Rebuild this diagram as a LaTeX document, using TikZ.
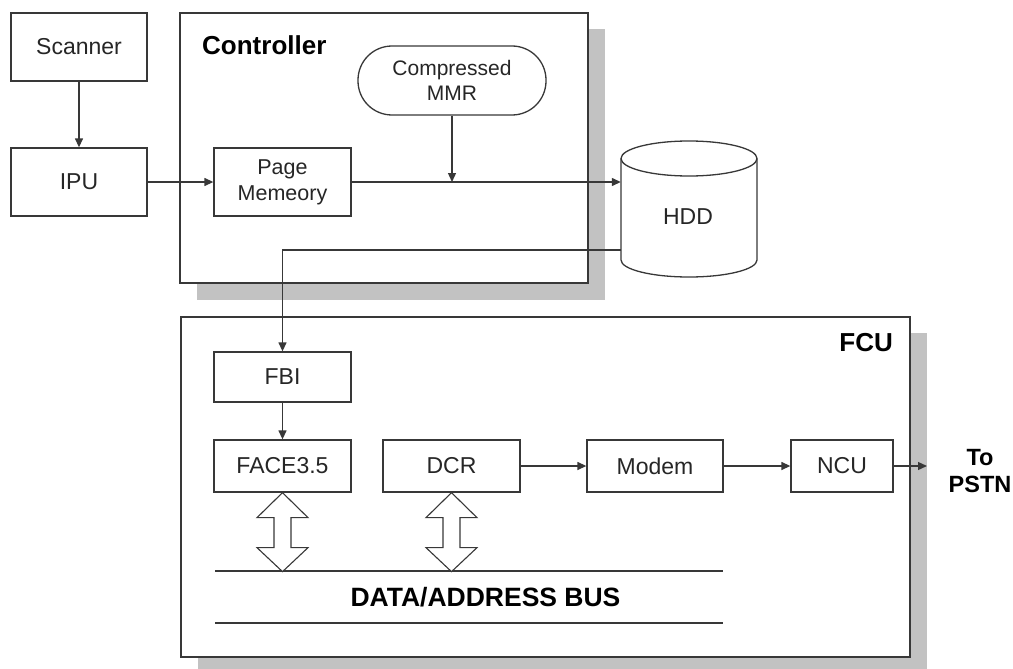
\documentclass[tikz,border=0pt]{standalone}
\usepackage{fontspec}
\setmainfont{Liberation Sans}
\usetikzlibrary{arrows.meta}
\definecolor{ln}{HTML}{383838}
\definecolor{tx}{HTML}{262626}
\definecolor{shd}{HTML}{C2C2C2}
\tikzset{
  blk/.style={draw=ln, line width=1.3pt, fill=white, inner sep=0pt, align=center, text=tx,
    font=\fontsize{23}{26}\selectfont},
  frame/.style={draw=ln, line width=1.5pt, fill=white},
  shadowbox/.style={fill=shd, draw=none},
  conn/.style={draw=ln, line width=1.3pt, -{Triangle[length=9pt,width=8pt]}},
  wire/.style={draw=ln, line width=1.3pt},
  title/.style={font=\bfseries\fontsize{26}{28}\selectfont, text=black, inner sep=0pt},
  busline/.style={draw=ln, line width=2.6pt},
  busarrow/.style={draw=ln, line width=1.1pt, fill=white},
}
\newcommand{\dblarrowpath}{(0,0) -- (25.5,25) -- (8.5,25) -- (8.5,55) -- (25.5,55) -- (0,79) -- (-25.5,55) -- (-8.5,55) -- (-8.5,25) -- (-25.5,25) -- cycle}
\begin{document}
\begin{tikzpicture}[x=1pt,y=-1pt]
\useasboundingbox (0,0) rectangle (1013,669);
% shadows and frames
\fill[shd] (197,29) rectangle (605,300);
\draw[frame] (180,13) rectangle (588,283);
\fill[shd] (198,333) rectangle (927,669);
\draw[frame] (181,317) rectangle (910,657);
\node[title, anchor=west] (ctl) at (202,45) {Controller};
\node[title, anchor=east] (fcu) at (893,343) {FCU};
% top nodes
\node[blk, minimum width=136pt, minimum height=68pt] (scanner) at (79,47) {Scanner};
\node[blk, minimum width=136pt, minimum height=68pt] (ipu) at (79,182) {IPU};
\node[blk, minimum width=137pt, minimum height=68pt, font=\fontsize{21.5}{26}\selectfont] (pagemem) at (282.5,182) {Page\\Memeory};
\node[blk, minimum width=188pt, minimum height=69pt, rounded corners=34pt, font=\fontsize{21}{25}\selectfont] (mmr) at (452,80.5) {Compressed\\MMR};
% HDD cylinder
\node[minimum width=136pt, minimum height=136pt, inner sep=0pt] (hdd) at (689,209) {};
\fill[white] (621,158.5) rectangle (757,260);
\fill[white] (689,260) ellipse [x radius=68pt, y radius=17pt];
\draw[wire] (621,158.5) -- (621,260) arc [start angle=180, end angle=360, x radius=68pt, y radius=17pt] -- (757,158.5);
\draw[wire, fill=white] (689,158.5) ellipse [x radius=68pt, y radius=17.5pt];
\node[text=tx, font=\fontsize{23}{26}\selectfont] (hddlbl) at (688,217) {HDD};
% FCU nodes
\node[blk, minimum width=137pt, minimum height=50pt] (fbi) at (282.5,377) {FBI};
\node[blk, minimum width=137pt, minimum height=52pt] (face) at (282.5,466) {FACE3.5};
\node[blk, minimum width=137pt, minimum height=52pt] (dcr) at (451.5,466) {DCR};
\node[blk, minimum width=136pt, minimum height=52pt] (modem) at (655,466) {Modem};
\node[blk, minimum width=102pt, minimum height=52pt] (ncu) at (842,466) {NCU};
\node[align=center, font=\bfseries\fontsize{23.5}{27}\selectfont, text=black, inner sep=0pt] (pstn) at (980,471) {To\\PSTN};
\coordinate (pstnin) at (927,466);
\coordinate (hddout) at (621,250);
% connectors
\draw[conn] (scanner) -- (ipu);
\draw[conn] (ipu) -- (pagemem);
\draw[conn] (pagemem.east) -- (pagemem.east -| hdd.west);
\draw[conn] (mmr.south) -- (mmr.south |- pagemem.east);
\draw[conn] (hddout) -| (fbi.north);
\draw[conn] (fbi) -- (face);
\draw[conn] (dcr) -- (modem);
\draw[conn] (modem) -- (ncu);
\draw[conn] (ncu) -- (pstnin);
% bus
\coordinate (busl) at (215,571);
\coordinate (busr) at (723,571);
\coordinate (busl2) at (215,623);
\coordinate (busr2) at (723,623);
\draw[busline] (busl) -- (busr);
\draw[busline] (busl2) -- (busr2);
\node[font=\bfseries\fontsize{26.5}{28}\selectfont, text=black, inner sep=0pt] (buslbl) at (485.5,597) {DATA/ADDRESS BUS};
\draw[busarrow, shift={(face.south)}] \dblarrowpath;
\draw[busarrow, shift={(dcr.south)}] \dblarrowpath;
\end{tikzpicture}
\end{document}
